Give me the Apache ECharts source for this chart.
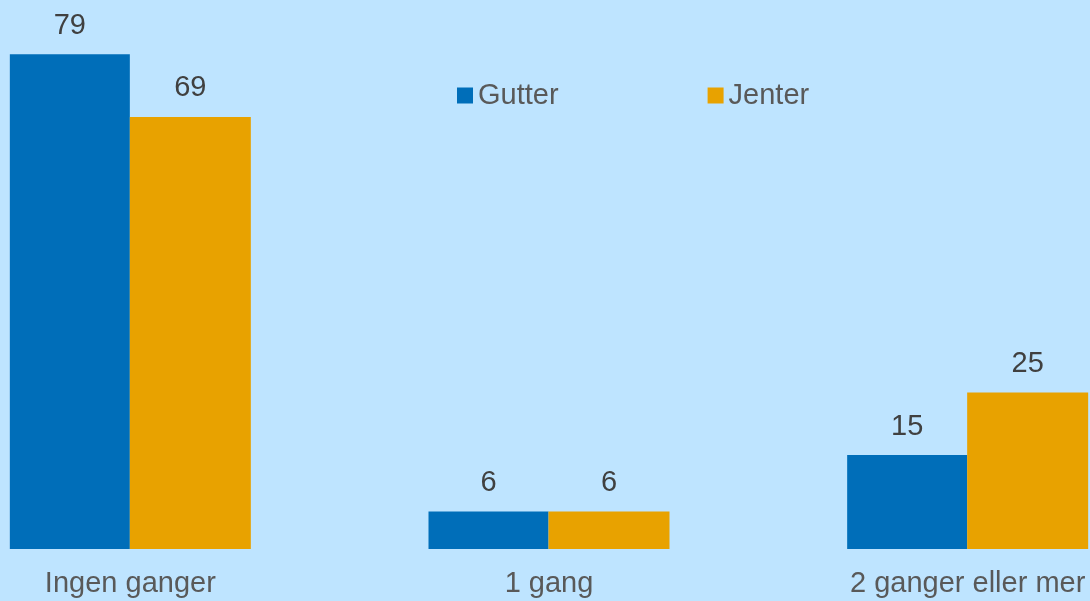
<!DOCTYPE html>
<html>
<head>
<meta charset="utf-8">
<title>Gutter / Jenter</title>
<script src="https://cdn.jsdelivr.net/npm/echarts@6/dist/echarts.min.js"></script>
<style>
  html, body { margin: 0; padding: 0; background: #BEE4FF; }
  #chart { width: 1090px; height: 601px; }
</style>
</head>
<body>
<div id="chart"></div>
<script>
  // data
  var categories = ['Ingen ganger', '1 gang', '2 ganger eller mer'];
  var gutter = [79, 6, 15];
  var jenter = [69, 6, 25];

  var myChart = echarts.init(document.getElementById('chart'));
  var option = {
    backgroundColor: '#BEE4FF',
    animation: false,
    textStyle: {
      fontFamily: 'Liberation Sans, Arial, sans-serif'
    },
    legend: {
      data: ['Gutter', 'Jenter'],
      left: 452,
      top: 76,
      icon: 'rect',
      itemWidth: 16,
      itemHeight: 16,
      itemGap: 149,
      textStyle: {
        fontSize: 29,
        color: '#595959'
      }
    },
    grid: {
      left: -79,
      right: -87,
      top: 48,
      bottom: 52,
      outerBoundsMode: 'none'
    },
    xAxis: {
      type: 'category',
      data: categories,
      axisLine: { show: false },
      axisTick: { show: false },
      axisLabel: {
        fontSize: 29,
        color: '#595959',
        margin: 20
      }
    },
    yAxis: {
      type: 'value',
      min: 0,
      max: 80,
      show: false,
      splitLine: { show: false }
    },
    series: [
      {
        name: 'Gutter',
        type: 'bar',
        barWidth: 120,
        barGap: '0%',
        itemStyle: { color: '#006EB9' },
        label: {
          show: true,
          position: 'top',
          distance: 14,
          fontSize: 29,
          color: '#404040'
        },
        data: gutter
      },
      {
        name: 'Jenter',
        type: 'bar',
        barWidth: 121,
        itemStyle: { color: '#E8A200' },
        label: {
          show: true,
          position: 'top',
          distance: 14,
          fontSize: 29,
          color: '#404040'
        },
        data: jenter
      }
    ]
  };
  myChart.setOption(option, true);
</script>
</body>
</html>
